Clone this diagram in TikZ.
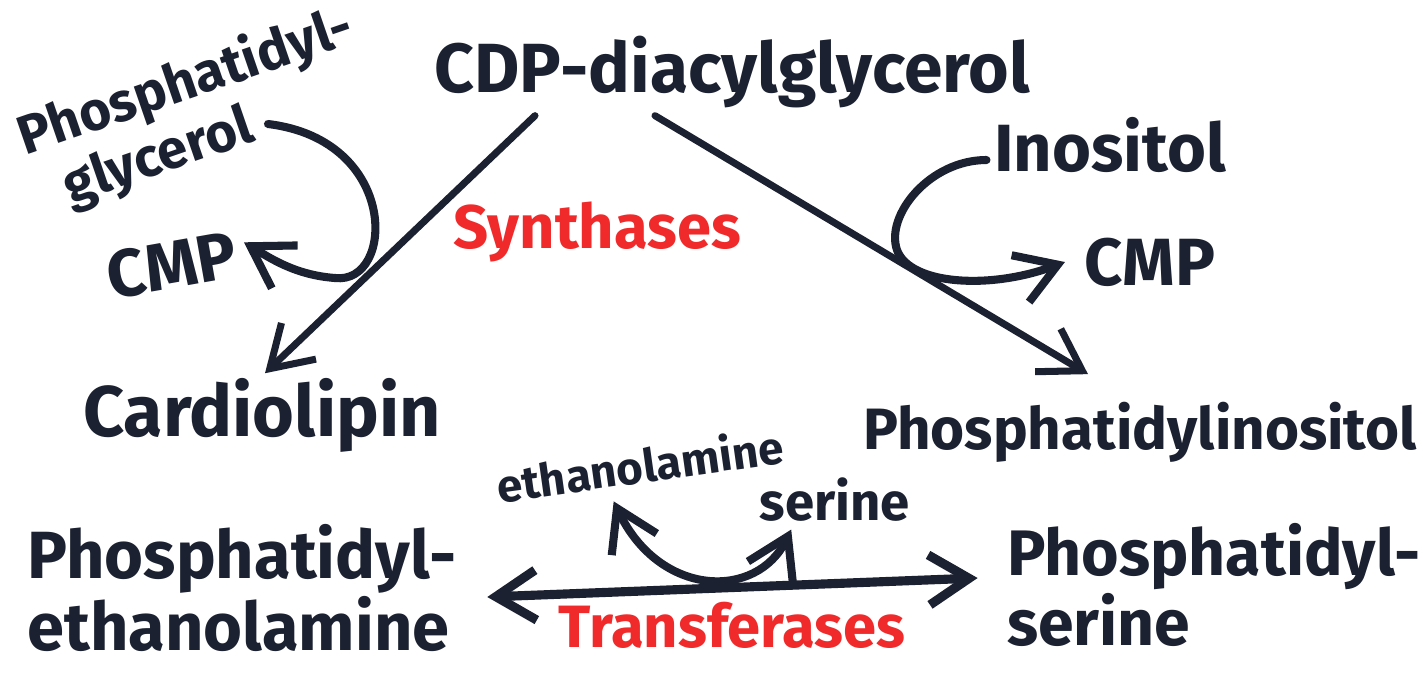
\documentclass[tikz,border=0pt]{standalone}
\usepackage{fontspec}
\setmainfont{Fira Sans}
\usepackage{tikz}
\usetikzlibrary{positioning,arrows.meta}
\definecolor{inkblue}{HTML}{1B2130}
\definecolor{markred}{HTML}{F02A2A}
\tikzset{>={Straight Barb[length=4mm,width=5mm]}}
\tikzset{
	ink/.style={draw=inkblue,line width=2.3pt,line cap=round,line join=round},
	lipid/.style={text=inkblue,inner sep=2pt,font=\bfseries\fontsize{19}{17}\selectfont},
	reagent/.style={text=inkblue,inner sep=2pt,font=\bfseries\fontsize{14}{15}\selectfont},
	enzyme/.style={text=markred,inner sep=2pt,font=\bfseries\fontsize{17.5}{19}\selectfont},
}

\begin{document}
\begin{tikzpicture}[on grid]
		\useasboundingbox (-7.32,0.72) rectangle (6.91,-6.00);
		\node(CDP) at (0,0) [lipid, font=\bfseries\fontsize{19.8}{17}\selectfont]	{CDP-diacylglycerol};
		\node(PG) [below left=0.40cm and 5.36cm of CDP, lipid, font=\bfseries\fontsize{15.5}{17.5}\selectfont, rotate=19, align=left]	{Phosphatidyl-\\\hspace*{7.5pt}glycerol};
		\node(CMPa) [below left=1.53cm and 0.24cm of PG, lipid, rotate=10]	{CMP};
		\node(Syn) [below left=1.60cm and 1.35cm of CDP, enzyme]	{Synthases};
		\node(Ino) [below right=0.73cm and 3.78cm of CDP, lipid]	{Inositol};
		\node(CMPb) [below right=1.17cm and 0.40cm of Ino, lipid]	{CMP};
		\node(Cardio) [below left=3.43cm and 4.70cm of CDP, lipid, font=\bfseries\fontsize{20.4}{17}\selectfont]	{Cardiolipin};
		\node(PI) [below right=3.60cm and 4.08cm of CDP, lipid, font=\bfseries\fontsize{16.6}{17}\selectfont]	{Phosphatidylinositol};
		\node(Etha) [below left=3.93cm and 0.92cm of CDP, reagent, font=\bfseries\fontsize{13}{14}\selectfont, rotate=8]	{ethanolamine};
		\node(Ser) [below right=0.35cm and 1.95cm of Etha, reagent, font=\bfseries\fontsize{15}{16}\selectfont]	{serine};
		\node(PE) [below left=1.73cm and 0.20cm of Cardio, lipid, align=left]	{Phosphatidyl-\\ethanolamine};
		\node(PS) [below right=1.53cm and 0.74cm of PI, lipid, font=\bfseries\fontsize{18.3}{17}\selectfont, align=left]	{Phosphatidyl-\\serine};
		\node(Trans) [below=5.53cm of CDP, enzyme, font=\bfseries\fontsize{17}{19}\selectfont]	{Transferases};

		% synthase branches
		\draw[ink,line width=2pt,->] ([xshift=-1.97cm]CDP.south) -- ([xshift=0.03cm,yshift=-0.03cm]Cardio.north);
		\draw[ink,line width=2pt,->] ([xshift=-0.77cm]CDP.south) -- ([xshift=-0.52cm,yshift=0.2cm]PI.north);
		\draw[ink,->] ([shift={(0.72,-0.12)}]PG.center) .. controls (-3.32,-0.68) and (-3.37,-2.13) .. (-3.97,-2.06)
			.. controls (-4.37,-2.03) and (-4.62,-1.86) .. ([yshift=0.1cm]CMPa.east);
		\draw[ink,->] ([yshift=-0.15cm]Ino.west) .. controls (1.98,-0.88) and (1.53,-1.43) .. (1.65,-1.78)
			.. controls (1.78,-2.13) and (2.58,-2.18) .. ([xshift=-0.12cm]CMPb.west);

		% transferase exchange
		\draw[ink,line width=2.6pt,<->] ([xshift=0.23cm,yshift=-0.09cm]PE.east) -- ([xshift=-0.22cm,yshift=0.07cm]PS.west);
		\draw[ink,<->] ([xshift=-0.3cm,yshift=-0.1cm]Etha.south) .. controls (-0.72,-5.26) and (0.25,-5.28) .. ([xshift=0.39cm]Ser.south west);
	\end{tikzpicture}
\end{document}
